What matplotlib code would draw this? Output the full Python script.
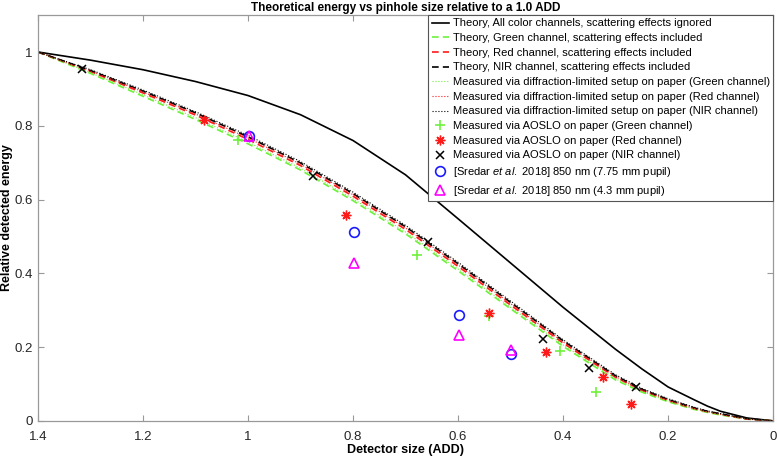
import matplotlib
matplotlib.use("Agg")
import matplotlib.pyplot as plt
from matplotlib.ticker import FuncFormatter, FixedLocator

plt.rcParams['font.family'] = ['Liberation Sans', 'DejaVu Sans']
plt.rcParams['mathtext.fontset'] = 'custom'
plt.rcParams['mathtext.it'] = 'Liberation Sans:italic'
plt.rcParams['mathtext.rm'] = 'Liberation Sans'

# ---- data ----
x_curve = [1.4, 1.3, 1.2, 1.1, 1.0, 0.9, 0.8, 0.7, 0.6, 0.5, 0.4, 0.3, 0.25, 0.2, 0.15, 0.125, 0.1, 0.05, 0.0]
theory_ideal = [1.0, 0.978, 0.952, 0.920, 0.882, 0.830, 0.760, 0.667, 0.548, 0.428, 0.308, 0.194, 0.141, 0.092, 0.057, 0.040, 0.026, 0.008, 0.0]
theory_green = [1.0, 0.942, 0.880, 0.817, 0.751, 0.680, 0.597, 0.507, 0.407, 0.304, 0.202, 0.111, 0.078, 0.052, 0.031, 0.023, 0.016, 0.005, 0.0]
theory_red = [1.0, 0.947, 0.889, 0.829, 0.763, 0.692, 0.609, 0.519, 0.419, 0.314, 0.211, 0.118, 0.083, 0.055, 0.033, 0.025, 0.018, 0.005, 0.0]
theory_nir = [1.0, 0.950, 0.894, 0.835, 0.770, 0.699, 0.616, 0.526, 0.426, 0.321, 0.217, 0.122, 0.086, 0.058, 0.035, 0.026, 0.019, 0.006, 0.0]
meas_dl_green = [1.0, 0.944, 0.884, 0.822, 0.756, 0.685, 0.602, 0.512, 0.412, 0.308, 0.206, 0.114, 0.080, 0.053, 0.032, 0.024, 0.017, 0.005, 0.0]
meas_dl_red = [1.0, 0.949, 0.892, 0.832, 0.767, 0.696, 0.613, 0.523, 0.423, 0.318, 0.214, 0.120, 0.084, 0.057, 0.034, 0.025, 0.018, 0.005, 0.0]
meas_dl_nir = [1.0, 0.952, 0.897, 0.838, 0.774, 0.703, 0.620, 0.530, 0.430, 0.325, 0.220, 0.125, 0.088, 0.060, 0.037, 0.027, 0.020, 0.006, 0.0]

aoslo_green_x = [1.02, 0.678, 0.542, 0.405, 0.337]
aoslo_green_y = [0.761, 0.449, 0.284, 0.189, 0.078]
aoslo_red_x = [1.084, 0.813, 0.542, 0.432, 0.324, 0.270]
aoslo_red_y = [0.815, 0.557, 0.293, 0.187, 0.119, 0.047]
aoslo_nir_x = [1.317, 0.877, 0.658, 0.4375, 0.350, 0.262]
aoslo_nir_y = [0.953, 0.663, 0.485, 0.223, 0.143, 0.092]
sredar775_x = [0.998, 0.799, 0.599, 0.499]
sredar775_y = [0.772, 0.511, 0.286, 0.182]
sredar43_x = [0.998, 0.799, 0.599, 0.499]
sredar43_y = [0.772, 0.427, 0.234, 0.193]

x_ticks = [1.4, 1.2, 1.0, 0.8, 0.6, 0.4, 0.2, 0.0]
y_ticks = [0, 0.2, 0.4, 0.6, 0.8, 1.0]

GREEN = '#6ef03c'
RED = '#ff1a1a'

fig = plt.figure(figsize=(7.77, 4.59), dpi=100)
ax = fig.add_axes([0.049, 0.083, 0.946, 0.884])

ax.plot(x_curve, theory_ideal, '-', color='black', lw=1.2,
        label='Theory, All color channels, scattering effects ignored')
ax.plot(x_curve, theory_green, '--', color=GREEN, lw=1.2, dashes=(4, 2.5),
        label='Theory, Green channel, scattering effects included')
ax.plot(x_curve, theory_red, '--', color=RED, lw=1.2, dashes=(4, 2.5),
        label='Theory, Red channel, scattering effects included')
ax.plot(x_curve, theory_nir, '--', color='black', lw=1.2, dashes=(4, 2.5),
        label='Theory, NIR channel, scattering effects included')
ax.plot(x_curve, meas_dl_green, ':', color=GREEN, lw=0.8,
        label='Measured via diffraction-limited setup on paper (Green channel)')
ax.plot(x_curve, meas_dl_red, ':', color=RED, lw=0.8,
        label='Measured via diffraction-limited setup on paper (Red channel)')
ax.plot(x_curve, meas_dl_nir, ':', color='black', lw=0.8,
        label='Measured via diffraction-limited setup on paper (NIR channel)')

ax.plot(aoslo_green_x, aoslo_green_y, linestyle='none', marker='+', ms=7, mew=1.2,
        color=GREEN, label='Measured via AOSLO on paper (Green channel)')
ax.plot(aoslo_red_x, aoslo_red_y, linestyle='none', marker=(8, 2, 0), ms=7, mew=1.0,
        color=RED, label='Measured via AOSLO on paper (Red channel)')
ax.plot(aoslo_nir_x, aoslo_nir_y, linestyle='none', marker='x', ms=6, mew=1.1,
        color='black', label='Measured via AOSLO on paper (NIR channel)')
ax.plot(sredar775_x, sredar775_y, linestyle='none', marker='o', ms=7, mew=1.2,
        mfc='none', mec='#1a1aff',
        label=r'[Sredar $\mathit{et\ al.}$ 2018] 850 nm (7.75 mm pupil)')
ax.plot(sredar43_x, sredar43_y, linestyle='none', marker='^', ms=7, mew=1.2,
        mfc='none', mec='#ff00ff',
        label=r'[Sredar $\mathit{et\ al.}$ 2018] 850 nm (4.3 mm pupil)')

ax.set_xlim(1.4, 0.0)
ax.set_ylim(0, 1.1)
ax.xaxis.set_major_locator(FixedLocator(x_ticks))
ax.yaxis.set_major_locator(FixedLocator(y_ticks))
fmt = FuncFormatter(lambda v, p: '%g' % round(v, 2))
ax.xaxis.set_major_formatter(fmt)
ax.yaxis.set_major_formatter(fmt)
ax.tick_params(direction='in', top=True, right=True, length=4, width=0.8,
               colors='#999999', labelcolor='#262626', labelsize=9.5)
ax.tick_params(axis='x', pad=7)
ax.tick_params(axis='y', pad=4)
for s in ax.spines.values():
    s.set_color('#999999')
    s.set_linewidth(0.9)

ax.set_xlabel('Detector size (ADD)', fontsize=9, fontweight='bold', labelpad=1)
ax.set_ylabel('Relative detected energy', fontsize=9, fontweight='bold', labelpad=1)
ax.set_title('Theoretical energy vs pinhole size relative to a 1.0 ADD',
             fontsize=8.5, fontweight='bold', pad=3)

leg = ax.legend(loc='upper right', bbox_to_anchor=(1.0, 1.0), borderaxespad=0,
                fontsize=8, handlelength=1.6, handletextpad=0.3, labelspacing=0.42,
                borderpad=0.3, fancybox=False, framealpha=1, edgecolor='#555555')
leg.get_frame().set_linewidth(0.8)

fig.savefig('out.png', dpi=100)
